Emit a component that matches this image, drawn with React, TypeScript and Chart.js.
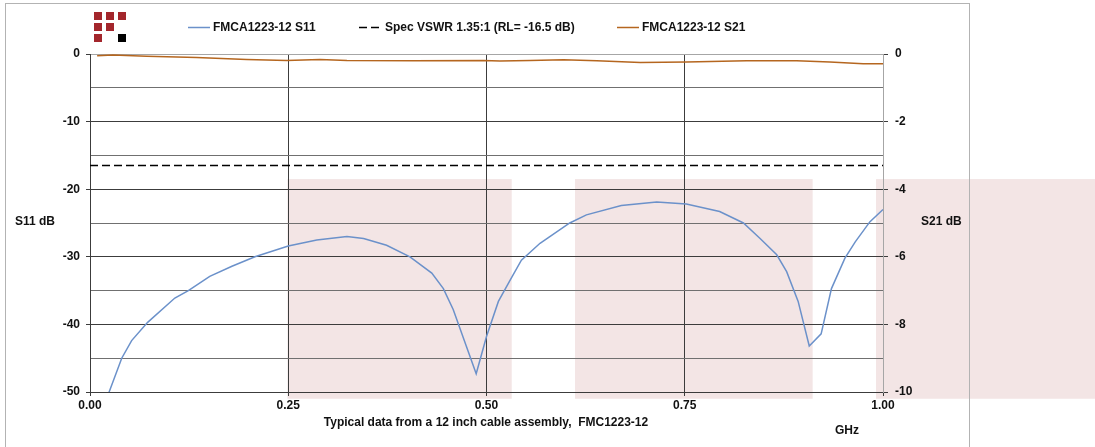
import { useEffect, useRef } from 'react';
import { Chart, registerables } from 'chart.js';

Chart.register(...registerables);

// ---- Data ----
const s11Freq = [0.02, 0.04, 0.0525, 0.0727, 0.107, 0.124, 0.151, 0.179, 0.208, 0.25, 0.286, 0.324, 0.345, 0.374, 0.4035, 0.431, 0.4456, 0.458, 0.487, 0.5, 0.515, 0.53, 0.544, 0.5675, 0.605, 0.626, 0.67, 0.7146, 0.752, 0.794, 0.824, 0.845, 0.866, 0.8785, 0.893, 0.907, 0.922, 0.935, 0.952, 0.965, 0.9836, 1.0];
const s11Values = [-51.3, -45.0, -42.4, -39.7, -36.1, -35.0, -32.9, -31.4, -30.0, -28.4, -27.5, -27.0, -27.3, -28.3, -30.0, -32.4, -34.7, -37.8, -47.3, -41.8, -36.6, -33.4, -30.5, -28.0, -25.0, -23.8, -22.4, -21.9, -22.2, -23.3, -25.0, -27.3, -29.7, -32.2, -36.6, -43.2, -41.4, -34.7, -30.2, -27.8, -24.8, -23.0];

const s21Freq = [0.009, 0.029, 0.0715, 0.1345, 0.1976, 0.248, 0.29, 0.324, 0.408, 0.496, 0.517, 0.555, 0.597, 0.639, 0.694, 0.752, 0.828, 0.891, 0.933, 0.975, 1.0];
const s21Values = [-0.05, -0.03, -0.07, -0.1, -0.16, -0.19, -0.16, -0.19, -0.2, -0.19, -0.21, -0.19, -0.17, -0.2, -0.25, -0.24, -0.2, -0.2, -0.24, -0.29, -0.29];

const specFreq = [0, 1];
const specValues = [-16.5, -16.5];

// shaded bands (in axis units: GHz and S11 dB)
const bandStarts = [0.249, 0.6116, 0.9912];
const bandEnds = [0.5318, 0.9113, 1.27];
const bandTop = -18.5;
const bandBottom = -51.0;

const seriesLabels = ['FMCA1223-12 S11', 'Spec VSWR 1.35:1 (RL= -16.5 dB)', 'FMCA1223-12 S21'];
const leftTitle = 'S11 dB';
const rightTitle = 'S21 dB';
const xUnit = 'GHz';
const caption = 'Typical data from a 12 inch cable assembly,  FMC1223-12';

const FONT = '"Liberation Sans", Arial, sans-serif';
const DARK = '#3c3c3c';
const MINOR = '#707070';
const LIGHT = '#a6a6a6';

const toPoints = (xs: number[], ys: number[]) => xs.map((x, i) => ({ x, y: ys[i] }));

const decorPlugin = {
  id: 'decor',
  beforeDraw(chart: any) {
    const { ctx, scales } = chart;
    const xs = scales.x;
    const ys = scales.y;
    ctx.save();
    ctx.fillStyle = '#f3e5e5';
    const top = ys.getPixelForValue(bandTop);
    const bottom = ys.getPixelForValue(bandBottom);
    for (let i = 0; i < bandStarts.length; i++) {
      const l = xs.getPixelForValue(bandStarts[i]);
      const r = xs.getPixelForValue(bandEnds[i]);
      ctx.fillRect(l, top, r - l, bottom - top);
    }
    ctx.strokeStyle = '#b3b3b3';
    ctx.lineWidth = 1;
    ctx.strokeRect(5.5, 3.5, 964, 470);
    ctx.restore();
  },
  afterDraw(chart: any) {
    const { ctx } = chart;
    ctx.save();
    ctx.font = `bold 12px ${FONT}`;
    ctx.fillStyle = '#111';
    ctx.textBaseline = 'middle';
    ctx.textAlign = 'left';
    // legend
    const legendPos = [
      { line: 188, text: 213 },
      { line: 359, text: 385 },
      { line: 617, text: 642 },
    ];
    const ly = 27.5;
    chart.data.datasets.forEach((ds: any, i: number) => {
      const p = legendPos[i];
      ctx.save();
      ctx.strokeStyle = ds.borderColor;
      ctx.lineWidth = ds.borderWidth;
      ctx.setLineDash(ds.borderDash || []);
      ctx.beginPath();
      ctx.moveTo(p.line, ly);
      ctx.lineTo(p.line + 22, ly);
      ctx.stroke();
      ctx.restore();
      ctx.fillText(ds.label, p.text, ly);
    });
    // axis titles
    ctx.fillText(leftTitle, 15, 222);
    ctx.fillText(rightTitle, 921, 222);
    ctx.fillText(xUnit, 835, 431);
    ctx.textAlign = 'center';
    ctx.fillText(caption, 486, 423);
    // logo
    const lx = [94, 106, 118];
    const lyy = [12, 23, 34];
    const cells = [
      ['r', 'r', 'r'],
      ['r', 'r', ''],
      ['r', '', 'k'],
    ];
    for (let r = 0; r < 3; r++) {
      for (let c = 0; c < 3; c++) {
        const v = cells[r][c];
        if (!v) continue;
        ctx.fillStyle = v === 'r' ? '#a3262c' : '#000';
        ctx.fillRect(lx[c], lyy[r], 8, 8);
      }
    }
    ctx.restore();
  },
};

export default function App() {
  const ref = useRef<HTMLCanvasElement>(null);

  useEffect(() => {
    if (!ref.current) return;
    const tickFont = { family: FONT, size: 12, weight: 'bold' as const };
    const chart = new Chart(ref.current, {
      type: 'scatter',
      data: {
        datasets: [
          {
            label: seriesLabels[0],
            data: toPoints(s11Freq, s11Values),
            showLine: true,
            borderColor: '#6b91ca',
            backgroundColor: '#6b91ca',
            borderWidth: 1.5,
            pointRadius: 0,
            yAxisID: 'y',
          },
          {
            label: seriesLabels[1],
            data: toPoints(specFreq, specValues),
            showLine: true,
            borderColor: '#000000',
            backgroundColor: '#000000',
            borderWidth: 1.6,
            borderDash: [8, 4],
            pointRadius: 0,
            yAxisID: 'y',
          },
          {
            label: seriesLabels[2],
            data: toPoints(s21Freq, s21Values),
            showLine: true,
            borderColor: '#b5661f',
            backgroundColor: '#b5661f',
            borderWidth: 1.5,
            pointRadius: 0,
            yAxisID: 'y2',
          },
        ],
      },
      options: {
        responsive: false,
        animation: false,
        devicePixelRatio: 1,
        layout: { padding: { top: 54, left: 0, right: 0, bottom: 0 } },
        plugins: {
          legend: { display: false },
          tooltip: { enabled: false },
        },
        scales: {
          x: {
            type: 'linear',
            min: 0,
            max: 1,
            afterFit: (s: any) => { s.height = 55; },
            ticks: {
              stepSize: 0.25,
              font: tickFont,
              color: '#111',
              padding: 2,
              maxRotation: 0,
              callback: (v: any) => Number(v).toFixed(2),
            },
            grid: {
              color: (c: any) => (c.tick && c.tick.value === 1 ? LIGHT : DARK),
              tickColor: DARK,
              tickLength: 4,
            },
            border: { color: DARK },
          },
          y: {
            type: 'linear',
            position: 'left',
            min: -50,
            max: 0,
            afterFit: (s: any) => { s.width = 90; },
            ticks: {
              stepSize: 5,
              autoSkip: false,
              font: tickFont,
              color: '#111',
              padding: 6,
              callback: (v: any) => (Number(v) % 10 === 0 ? String(v) : ''),
            },
            grid: {
              color: (c: any) => {
                const v = c.tick ? c.tick.value : 1;
                if (v === 0) return LIGHT;
                return v % 10 === 0 ? DARK : MINOR;
              },
              tickColor: (c: any) => (c.tick && c.tick.value % 10 === 0 ? DARK : 'rgba(0,0,0,0)'),
              tickLength: 4,
            },
            border: { color: DARK },
          },
          y2: {
            type: 'linear',
            position: 'right',
            min: -10,
            max: 0,
            afterFit: (s: any) => { s.width = 212; },
            ticks: {
              stepSize: 2,
              autoSkip: false,
              font: tickFont,
              color: '#111',
              padding: 7,
            },
            grid: {
              drawOnChartArea: false,
              tickColor: DARK,
              tickLength: 5,
            },
            border: { color: LIGHT },
          },
        },
      },
      plugins: [decorPlugin],
    });
    return () => chart.destroy();
  }, []);

  return (
    <div style={{ position: 'fixed', left: 0, top: 0, width: 1095, height: 447, overflow: 'hidden', background: '#fff' }}>
      <canvas ref={ref} width={1095} height={447} style={{ display: 'block' }} />
    </div>
  );
}
